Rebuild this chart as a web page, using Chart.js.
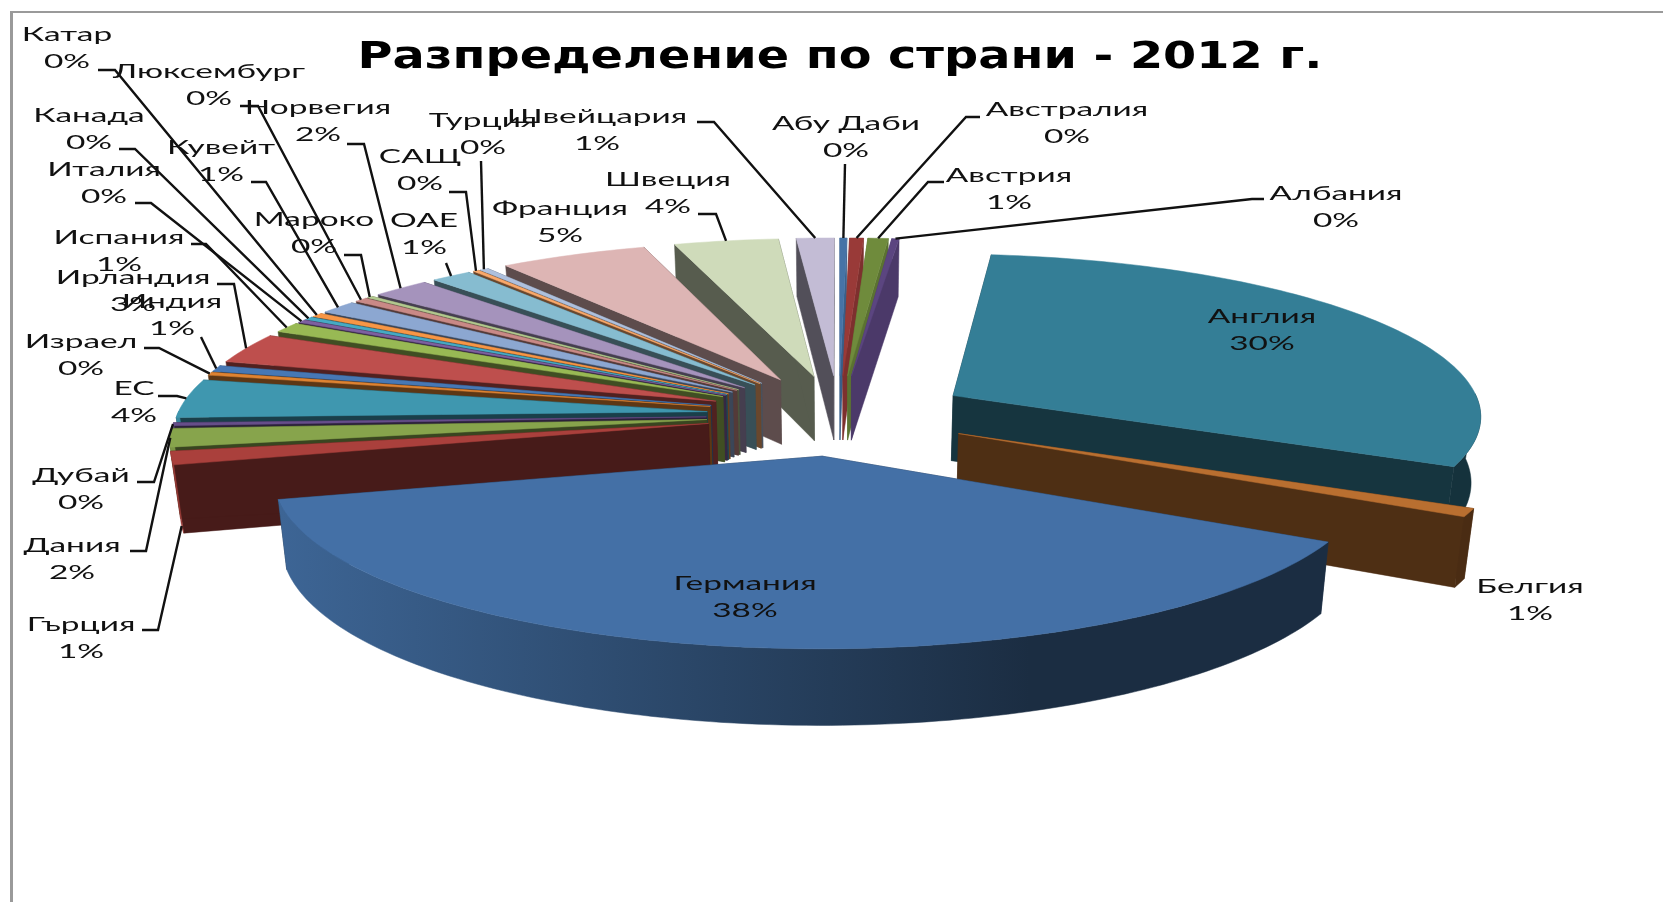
<!DOCTYPE html>
<html>
<head>
<meta charset="utf-8">
<title>Разпределение по страни</title>
<script src="https://cdn.jsdelivr.net/npm/chart.js@4"></script>
<style>
  html, body { margin: 0; background: #fff; overflow: hidden; }
  #frame { position: absolute; left: 10px; top: 11px; right: 0; bottom: 0;
           border-left: 3px solid #9a9a9a; border-top: 2px solid #9a9a9a; }
  canvas { position: absolute; left: 0; top: 0; }
</style>
</head>
<body>
<div id="frame"></div>
<canvas id="country_pie" width="1663" height="902"></canvas>
<script>
const chartTitle = 'Разпределение по страни - 2012 г.';

const countries = [
  'Абу Даби', 'Австралия', 'Австрия', 'Албания', 'Англия', 'Белгия', 'Германия',
  'Гърция', 'Дания', 'Дубай', 'ЕС', 'Израел', 'Индия', 'Ирландия', 'Испания',
  'Италия', 'Канада', 'Катар', 'Кувейт', 'Люксембург', 'Мароко', 'Норвегия',
  'ОАЕ', 'САЩ', 'Турция', 'Франция', 'Швеция', 'Швейцария'
];

const shares = [
  0.24, 0.48, 0.7, 0.25, 30.4, 0.8, 38.1,
  1.3, 1.8, 0.3, 3.8, 0.3, 0.6, 3.0, 1.0,
  0.3, 0.3, 0.4, 1.3, 0.45, 0.2, 2.0,
  1.4, 0.2, 0.3, 5.1, 3.6, 1.3
];

const sliceColors = [
  '#4673a6', '#993a38', '#6f8b3c', '#5b4580', '#347e96', '#b96f30', '#4470a6',
  '#aa403c', '#87a44c', '#664e8a', '#3f97af', '#de8332', '#4778b5', '#be4f4d', '#98b954',
  '#7d60a0', '#46aac4', '#f79646', '#8ca7d1', '#c98986', '#b2c88f', '#a593bc',
  '#86bcd0', '#f9a86a', '#aec0dd', '#ddb5b4', '#cfdbba', '#c3bcd5'
];

// where each caption sits and the elbow of its leader line
const labelSpots = [
  { x: 846, y: 124, lead: [845, 164] },
  { x: 1067, y: 110, lead: [980, 117, 966, 117] },
  { x: 1009, y: 176, lead: [944, 182, 928, 182] },
  { x: 1336, y: 194, lead: [1264, 199, 1252, 199] },
  { x: 1262, y: 317 },
  { x: 1530, y: 587 },
  { x: 745, y: 584 },
  { x: 81, y: 625, lead: [142, 630, 158, 630], wallBase: true },
  { x: 72, y: 546, lead: [130, 551, 146, 551] },
  { x: 81, y: 476, lead: [137, 482, 154, 482] },
  { x: 134, y: 389, lead: [158, 396, 177, 396] },
  { x: 81, y: 342, lead: [144, 348, 159, 348] },
  { x: 172, y: 302, lead: [201, 337] },
  { x: 133, y: 278, lead: [217, 284, 234, 284] },
  { x: 119, y: 238, lead: [191, 244, 206, 244] },
  { x: 104, y: 170, lead: [135, 203, 151, 203] },
  { x: 89, y: 116, lead: [119, 149, 135, 149] },
  { x: 67, y: 35, lead: [98, 70, 115, 70] },
  { x: 221, y: 148, lead: [251, 182, 266, 182] },
  { x: 209, y: 72, lead: [240, 106, 258, 106] },
  { x: 314, y: 220, lead: [344, 255, 361, 255] },
  { x: 318, y: 108, lead: [347, 144, 364, 144] },
  { x: 424, y: 221, lead: [446, 263] },
  { x: 420, y: 157, lead: [449, 192, 466, 192] },
  { x: 483, y: 121, lead: [481, 161] },
  { x: 560, y: 209 },
  { x: 668, y: 180, lead: [698, 214, 716, 214] },
  { x: 597, y: 117, lead: [697, 122, 714, 122] }
];

// tilted disc: centre, radius, perspective distance, tilt, thickness
const CX = 839, CY = 415, RADIUS = 530, EYE = 9, TILT = 1452, THICK = 66;
const EXPLODE = 0.25;
const BASE_SHRINK = 0.985;
const WALL_DARK = 0.42;
const WALL_LIT = 0.82;

const LABEL_FONT = '20px Lato';
const LABEL_STRETCH = 1.67;
const LINE_GAP = 27;
const TITLE_FONT = 'bold 37px "DejaVu Sans"';
const TITLE_STRETCH = 1.29;

function project(u, v, low) {
  const s = EYE / (EYE - v);
  let x = CX + RADIUS * u * s;
  let y = CY + TILT * v / (EYE - v);
  if (low) {
    x = CX + (x - CX) * BASE_SHRINK;
    y += THICK * s;
  }
  return [x, y];
}

function shade(hex, k) {
  const n = parseInt(hex.slice(1), 16);
  const c = [n >> 16, (n >> 8) & 255, n & 255].map(function(p) { return Math.round(p * k); });
  return 'rgb(' + c.join(',') + ')';
}

function fillPoly(ctx, pts, fill) {
  ctx.beginPath();
  pts.forEach(function(p, i) { i ? ctx.lineTo(p[0], p[1]) : ctx.moveTo(p[0], p[1]); });
  ctx.closePath();
  ctx.fillStyle = fill;
  ctx.strokeStyle = fill;
  ctx.lineWidth = 0.5;
  ctx.fill();
  ctx.stroke();
}

// rim and apex of one pie arc, pushed out along its middle angle
function sliceGeometry(arc) {
  const mid = (arc.startAngle + arc.endAngle) / 2;
  const ox = EXPLODE * Math.cos(mid), oy = EXPLODE * Math.sin(mid);
  const steps = Math.max(2, Math.ceil((arc.endAngle - arc.startAngle) / 0.02));
  const rim = [];
  for (let i = 0; i <= steps; i++) {
    const a = arc.startAngle + (arc.endAngle - arc.startAngle) * i / steps;
    rim.push({ a: a, u: ox + Math.cos(a), v: oy + Math.sin(a) });
  }
  return { mid: mid, ox: ox, oy: oy, rim: rim };
}

function outerGradient(ctx, color) {
  const g = ctx.createLinearGradient(280, 0, 1030, 0);
  g.addColorStop(0, shade(color, 0.9));
  g.addColorStop(1, shade(color, 0.4));
  return g;
}

function drawSlice(ctx, arc, color) {
  const g = sliceGeometry(arc);
  // thin slices just right of twelve o'clock catch the light on their cut face
  const lit = Math.cos(g.mid) > 0 && Math.sin(g.mid) < -0.9;
  const wall = shade(color, lit ? WALL_LIT : WALL_DARK);
  const first = g.rim[0], last = g.rim[g.rim.length - 1];

  // the two cut faces
  [first, last].forEach(function(p) {
    fillPoly(ctx, [
      project(g.ox, g.oy, false), project(p.u, p.v, false),
      project(p.u, p.v, true), project(g.ox, g.oy, true)
    ], wall);
  });

  // curved face, only where it turns towards the viewer
  const front = g.rim.filter(function(p) { return Math.sin(p.a) > -0.02; });
  if (front.length > 1) {
    const upper = front.map(function(p) { return project(p.u, p.v, false); });
    const lower = front.map(function(p) { return project(p.u, p.v, true); }).reverse();
    fillPoly(ctx, upper.concat(lower), outerGradient(ctx, color));
  }

  const top = [project(g.ox, g.oy, false)].concat(g.rim.map(function(p) { return project(p.u, p.v, false); }));
  fillPoly(ctx, top, color);
}

function stretchedText(ctx, lines, x, y, stretch, font, color) {
  ctx.save();
  ctx.translate(x, y);
  ctx.scale(stretch, 1);
  ctx.font = font;
  ctx.fillStyle = color;
  ctx.textAlign = 'center';
  ctx.textBaseline = 'middle';
  lines.forEach(function(line, i) { ctx.fillText(line, 0, i * LINE_GAP); });
  ctx.restore();
}

function drawLabel(ctx, arc, i) {
  const spot = labelSpots[i];
  const lead = spot.lead;
  if (lead) {
    const g = sliceGeometry(arc);
    const end = project(g.ox + Math.cos(g.mid), g.oy + Math.sin(g.mid), !!spot.wallBase);
    ctx.beginPath();
    ctx.moveTo(lead[0], lead[1]);
    for (let k = 2; k < lead.length; k += 2) ctx.lineTo(lead[k], lead[k + 1]);
    ctx.lineTo(end[0], end[1]);
    ctx.strokeStyle = '#111';
    ctx.lineWidth = 2.4;
    ctx.stroke();
  }
  stretchedText(ctx, [countries[i], Math.round(shares[i]) + '%'], spot.x, spot.y, LABEL_STRETCH, LABEL_FONT, '#111');
}

const tiltedPie = {
  id: 'tiltedPie',
  beforeDatasetsDraw(chart) {
    const ctx = chart.ctx;
    const arcs = chart.getDatasetMeta(0).data;
    // far slices first so the nearer ones paint over them
    const order = arcs.map(function(arc, i) { return i; }).sort(function(a, b) {
      const ma = (arcs[a].startAngle + arcs[a].endAngle) / 2;
      const mb = (arcs[b].startAngle + arcs[b].endAngle) / 2;
      return Math.sin(ma) - Math.sin(mb);
    });
    order.forEach(function(i) { drawSlice(ctx, arcs[i], sliceColors[i]); });
    return false;
  },
  afterDraw(chart) {
    chart.getDatasetMeta(0).data.forEach(function(arc, i) { drawLabel(chart.ctx, arc, i); });
    stretchedText(chart.ctx, [chartTitle], 840, 58, TITLE_STRETCH, TITLE_FONT, '#000');
  }
};

new Chart(document.getElementById('country_pie').getContext('2d'), {
  type: 'pie',
  data: {
    labels: countries,
    datasets: [{ data: shares, backgroundColor: sliceColors, borderWidth: 0 }]
  },
  options: {
    responsive: false,
    animation: false,
    plugins: {
      legend: { display: false },
      tooltip: { enabled: false }
    }
  },
  plugins: [tiltedPie]
});
</script>
</body>
</html>
